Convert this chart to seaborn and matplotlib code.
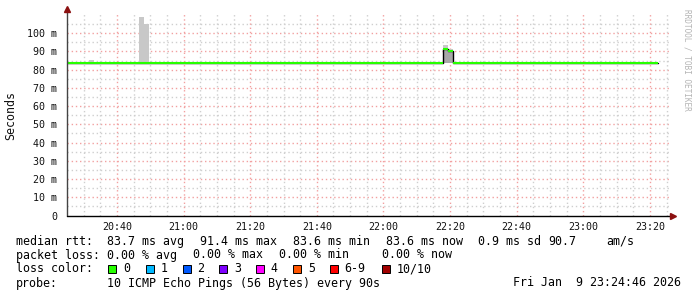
import matplotlib
matplotlib.use("Agg")
import matplotlib.pyplot as plt
from matplotlib.patches import Rectangle
import seaborn as sns
import pandas as pd

# ---------------- data ----------------
# time is expressed in minutes after 20:00
x_tick_labels = ["20:40", "21:00", "21:20", "21:40", "22:00", "22:20", "22:40", "23:00", "23:20"]
y_tick_values = [0, 10, 20, 30, 40, 50, 60, 70, 80, 90, 100]
y_tick_labels = ["0", "10 m", "20 m", "30 m", "40 m", "50 m", "60 m", "70 m", "80 m", "90 m", "100 m"]

step_min = 1.5  # 90 s probe step

# median rtt (ms) as constant runs
median_start = [25.0, 138.0, 139.5, 141.0]
median_end = [138.0, 139.5, 141.0, 202.5]
median_ms = [83.7, 91.2, 90.3, 83.7]

# smoke (ping spread) for steps that show it
smoke_start = [31.5, 46.5, 48.0, 138.0, 139.5]
smoke_lo = [83.6, 83.6, 83.6, 83.6, 83.6]
smoke_hi = [85.5, 109.0, 105.0, 93.4, 91.6]
# denser inner smoke
dense_start = [138.0, 139.5]
dense_lo = [83.6, 83.6]
dense_hi = [91.2, 90.3]

stat_line1 = ["median rtt:", "83.7 ms avg", "91.4 ms max", "83.6 ms min", "83.6 ms now", "0.9 ms sd", "90.7", "am/s"]
stat_line2 = ["packet loss:", "0.00 % avg", "0.00 % max", "0.00 % min", "0.00 % now"]
loss_labels = ["0", "1", "2", "3", "4", "5", "6-9", "10/10"]
loss_colors = ["#26ff00", "#00b8ff", "#0059ff", "#7e00ff", "#ff00ff", "#ff5500", "#ff0000", "#a10000"]
probe_text = "10 ICMP Echo Pings (56 Bytes) every 90s"
stamp_text = "Fri Jan  9 23:24:46 2026"

# ---------------- layout ----------------
W, H = 697, 297
sns.set_theme(style="white")
plt.rcParams["font.family"] = ["DejaVu Sans Mono", "DejaVu Sans"]

fig = plt.figure(figsize=(W / 100, H / 100), dpi=100, facecolor="white")
x0, x1, y0, y1 = 67, 669, 215.5, 13
ax = fig.add_axes([x0 / W, 1 - y0 / H, (x1 - x0) / W, (y0 - y1) / H])
ax.set_facecolor("white")
px_per_min = 3.331
ax.set_xlim(25, 25 + (x1 - x0) / px_per_min)
ax.set_ylim(0, (y0 - y1) / 1.823)

def tmin(s):
    h, m = s.split(":")
    return (int(h) - 20) * 60 + int(m)

xt = [tmin(s) for s in x_tick_labels]

# grid
dot = (0, (1, 2))
for v in range(5, 110, 5):
    if v % 10:
        ax.axhline(v, color="#cfcfcf", lw=1, ls=dot, zorder=0)
    else:
        ax.axhline(v, color="#f2a0a0", lw=1, ls=dot, zorder=0)
for m in range(30, 206, 5):
    if m % 20 == 0:
        ax.axvline(m, color="#f2a0a0", lw=1, ls=dot, zorder=0)
    else:
        ax.axvline(m, color="#cfcfcf", lw=1, ls=dot, zorder=0)

# smoke
ax.bar(smoke_start, [h - l for h, l in zip(smoke_hi, smoke_lo)], bottom=smoke_lo,
       width=step_min, align="edge", color="#c8c8c8", linewidth=0, zorder=1)
ax.bar(dense_start, [h - l for h, l in zip(dense_hi, dense_lo)], bottom=dense_lo,
       width=step_min, align="edge", color="#a8a8a8", linewidth=0, zorder=1.5)

# median line: black step transitions, green (0 loss) horizontals
df = pd.DataFrame({"t": median_start + [median_end[-1]],
                   "ms": median_ms + [median_ms[-1]]})
sns.lineplot(data=df, x="t", y="ms", drawstyle="steps-post", color="black",
             lw=1, ax=ax, zorder=2)
ax.hlines(median_ms, median_start, median_end, color=loss_colors[0], lw=1.5, zorder=3)

# axes cosmetics
for s in ax.spines.values():
    s.set_visible(False)
ax.plot([0, 0], [0, 1.02], transform=ax.transAxes, color="#444444", lw=1, clip_on=False, zorder=5)
ax.plot([0, 1.004], [0, 0], transform=ax.transAxes, color="black", lw=1, clip_on=False, zorder=5)
ax.plot([0], [1.02], marker="^", ms=5, color="#8b1010", transform=ax.transAxes, clip_on=False, zorder=6)
ax.plot([1.006], [0], marker=">", ms=5, color="#8b1010", transform=ax.transAxes, clip_on=False, zorder=6)

ax.set_xticks(xt)
ax.set_xticklabels(x_tick_labels)
ax.set_yticks(y_tick_values)
ax.set_yticklabels(y_tick_labels)
ax.tick_params(axis="both", labelsize=7.2, labelcolor="#111111", length=2, color="#d06060", width=1)
ax.tick_params(axis="x", pad=3)
ax.tick_params(axis="y", pad=5)
ax.set_xlabel("")
ax.set_ylabel("")

fs = 8.37
fig.text(11 / W, 1 - 115 / H, "Seconds", rotation=90, ha="center", va="center", fontsize=fs, color="#111111")
fig.text(687 / W, 1 - 60 / H, "RRDTOOL / TOBI OETIKER", rotation=270, ha="center", va="center",
         fontsize=5.6, color="#b4b4b4")

# legend / statistics lines
line1_x = [16, 107.3, 200, 293.3, 386, 478.3, 548.3, 606.7]
for s, x in zip(stat_line1, line1_x):
    fig.text(x / W, 1 - 241.5 / H, s, ha="left", va="center", fontsize=fs, color="black")
line2_x = [16, 107.3, 193.3, 279.3, 381.7]
for s, x in zip(stat_line2, line2_x):
    fig.text(x / W, 1 - 255 / H, s, ha="left", va="center", fontsize=fs, color="black")
fig.text(16 / W, 1 - 269 / H, "loss color:", ha="left", va="center", fontsize=fs, color="black")
box_x = [108.3, 145.7, 182.7, 219.3, 256, 293.3, 330, 381.7]
for lab, col, bx in zip(loss_labels, loss_colors, box_x):
    fig.patches.append(Rectangle((bx / W, 1 - 273.3 / H), 8 / W, 8 / H, transform=fig.transFigure,
                                 facecolor=col, edgecolor="black", lw=0.7, figure=fig))
    fig.text((bx + 14.5) / W, 1 - 269 / H, lab, ha="left", va="center", fontsize=fs, color="black")
fig.text(16 / W, 1 - 283 / H, "probe:", ha="left", va="center", fontsize=fs, color="black")
fig.text(107.3 / W, 1 - 283 / H, probe_text, ha="left", va="center", fontsize=fs, color="black")
fig.text(513.3 / W, 1 - 283 / H, stamp_text, ha="left", va="center", fontsize=fs, color="black")

fig.savefig("out.png", dpi=100, facecolor="white")
